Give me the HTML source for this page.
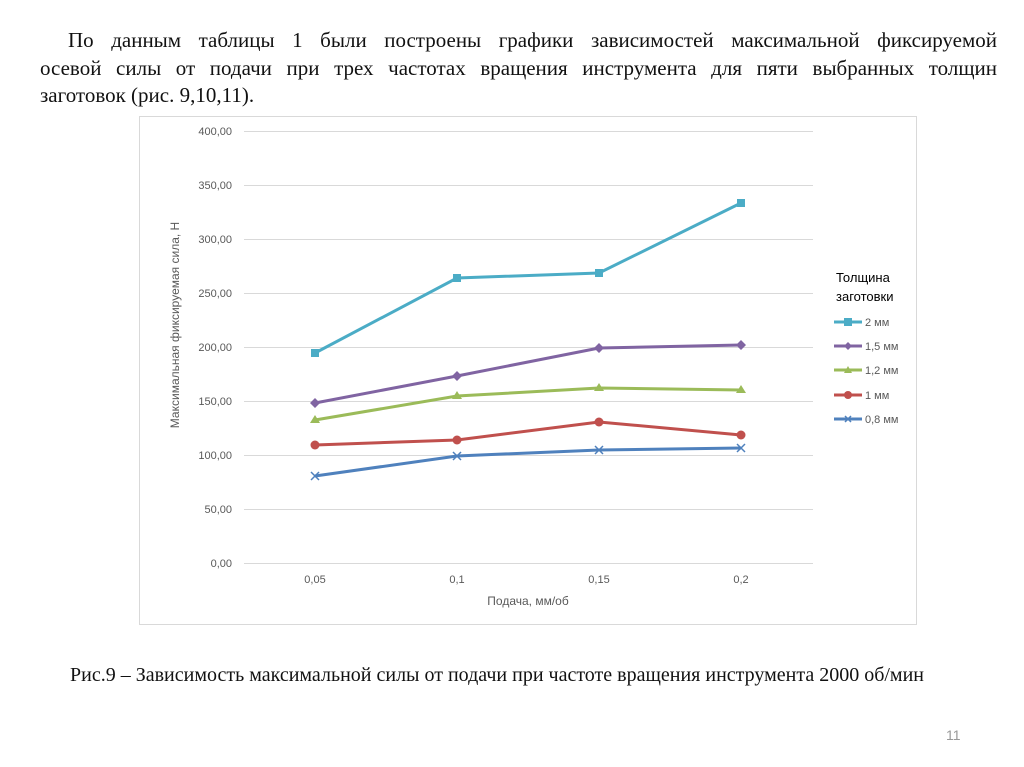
<!DOCTYPE html>
<html><head><meta charset="utf-8"><style>
body{margin:0;width:1024px;height:767px;background:#fff;position:relative;overflow:hidden}
.l{position:absolute;font:21px/27.5px "Liberation Serif","Noto Serif CJK SC",serif;color:#111;white-space:nowrap}
.j{text-align:justify;text-align-last:justify;white-space:normal}
.c{position:absolute;left:70px;top:664px;white-space:nowrap;font:20px "Liberation Serif",serif;color:#111}
.n{position:absolute;left:946px;top:727px;font:14px "Liberation Sans",sans-serif;color:#999}
svg{position:absolute;left:0;top:0}
</style></head><body>
<div class="l j" style="left:68px;top:27px;width:929px">По данным таблицы 1 были построены графики зависимостей максимальной фиксируемой</div>
<div class="l j" style="left:40px;top:55px;width:957px">осевой силы от подачи при трех частотах вращения инструмента для пяти выбранных толщин</div>
<div class="l" style="left:40px;top:82px">заготовок (рис. 9,10,11).</div>
<svg width="1024" height="767" font-family="Liberation Sans, DejaVu Sans, sans-serif">
<rect x="139.5" y="116.5" width="777" height="508" fill="none" stroke="#d9d9d9"/>
<g stroke="#d9d9d9" stroke-width="1">
<line x1="244" x2="813" y1="131.5" y2="131.5"/><line x1="244" x2="813" y1="185.5" y2="185.5"/>
<line x1="244" x2="813" y1="239.5" y2="239.5"/><line x1="244" x2="813" y1="293.5" y2="293.5"/>
<line x1="244" x2="813" y1="347.5" y2="347.5"/><line x1="244" x2="813" y1="401.5" y2="401.5"/>
<line x1="244" x2="813" y1="455.5" y2="455.5"/><line x1="244" x2="813" y1="509.5" y2="509.5"/>
<line x1="244" x2="813" y1="563.5" y2="563.5"/></g>
<g font-size="11" fill="#595959" text-anchor="end">
<text x="232" y="135">400,00</text><text x="232" y="189">350,00</text><text x="232" y="243">300,00</text>
<text x="232" y="297">250,00</text><text x="232" y="351">200,00</text><text x="232" y="405">150,00</text>
<text x="232" y="459">100,00</text><text x="232" y="513">50,00</text><text x="232" y="567">0,00</text></g>
<g font-size="11" fill="#595959" text-anchor="middle">
<text x="315" y="583">0,05</text><text x="457" y="583">0,1</text><text x="599" y="583">0,15</text><text x="741" y="583">0,2</text>
<text x="528" y="605" font-size="12">Подача, мм/об</text>
<text transform="translate(179,325) rotate(-90)" font-size="12">Максимальная фиксируемая сила, Н</text></g>
<g fill="none" stroke-width="3">
<polyline stroke="#4bacc6" points="315,353 457,278 599,273 741,203"/>
<polyline stroke="#8064a2" points="315,403 457,376 599,348 741,345"/>
<polyline stroke="#9bbb59" points="315,420 457,396 599,388 741,390"/>
<polyline stroke="#c0504d" points="315,445 457,440 599,422 741,435"/>
<polyline stroke="#4f81bd" points="315,476 457,456 599,450 741,448"/>
</g>
<g fill="#4bacc6"><rect x="311" y="349" width="8" height="8"/><rect x="453" y="274" width="8" height="8"/><rect x="595" y="269" width="8" height="8"/><rect x="737" y="199" width="8" height="8"/></g>
<g fill="#8064a2"><path d="M315 398l5 5-5 5-5-5z M457 371l5 5-5 5-5-5z M599 343l5 5-5 5-5-5z M741 340l5 5-5 5-5-5z"/></g>
<g fill="#9bbb59"><path d="M315 415l5 8h-10z M457 391l5 8h-10z M599 383l5 8h-10z M741 385l5 8h-10z"/></g>
<g fill="#c0504d"><circle cx="315" cy="445" r="4.5"/><circle cx="457" cy="440" r="4.5"/><circle cx="599" cy="422" r="4.5"/><circle cx="741" cy="435" r="4.5"/></g>
<g stroke="#4f81bd" stroke-width="1.5"><path d="M311 472l8 8M319 472l-8 8 M453 452l8 8M461 452l-8 8 M595 446l8 8M603 446l-8 8 M737 444l8 8M745 444l-8 8"/></g>
<g font-size="13" fill="#000"><text x="836" y="282">Толщина</text><text x="836" y="301">заготовки</text></g>
<g stroke-width="3">
<line x1="834" x2="862" y1="322" y2="322" stroke="#4bacc6"/>
<line x1="834" x2="862" y1="346" y2="346" stroke="#8064a2"/>
<line x1="834" x2="862" y1="370" y2="370" stroke="#9bbb59"/>
<line x1="834" x2="862" y1="395" y2="395" stroke="#c0504d"/>
<line x1="834" x2="862" y1="419" y2="419" stroke="#4f81bd"/></g>
<rect x="844" y="318" width="8" height="8" fill="#4bacc6"/>
<path d="M848 342l4 4-4 4-4-4z" fill="#8064a2"/>
<path d="M848 366l4 7h-8z" fill="#9bbb59"/>
<circle cx="848" cy="395" r="4" fill="#c0504d"/>
<path d="M845 416l6 6M851 416l-6 6" stroke="#4f81bd" stroke-width="1.5"/>
<g font-size="11" fill="#595959"><text x="865" y="326">2 мм</text><text x="865" y="350">1,5 мм</text><text x="865" y="374">1,2 мм</text><text x="865" y="399">1 мм</text><text x="865" y="423">0,8 мм</text></g>
</svg>
<div class="c">Рис.9 – Зависимость максимальной силы от подачи при частоте вращения инструмента 2000 об/мин</div>
<div class="n">11</div>
</body></html>
